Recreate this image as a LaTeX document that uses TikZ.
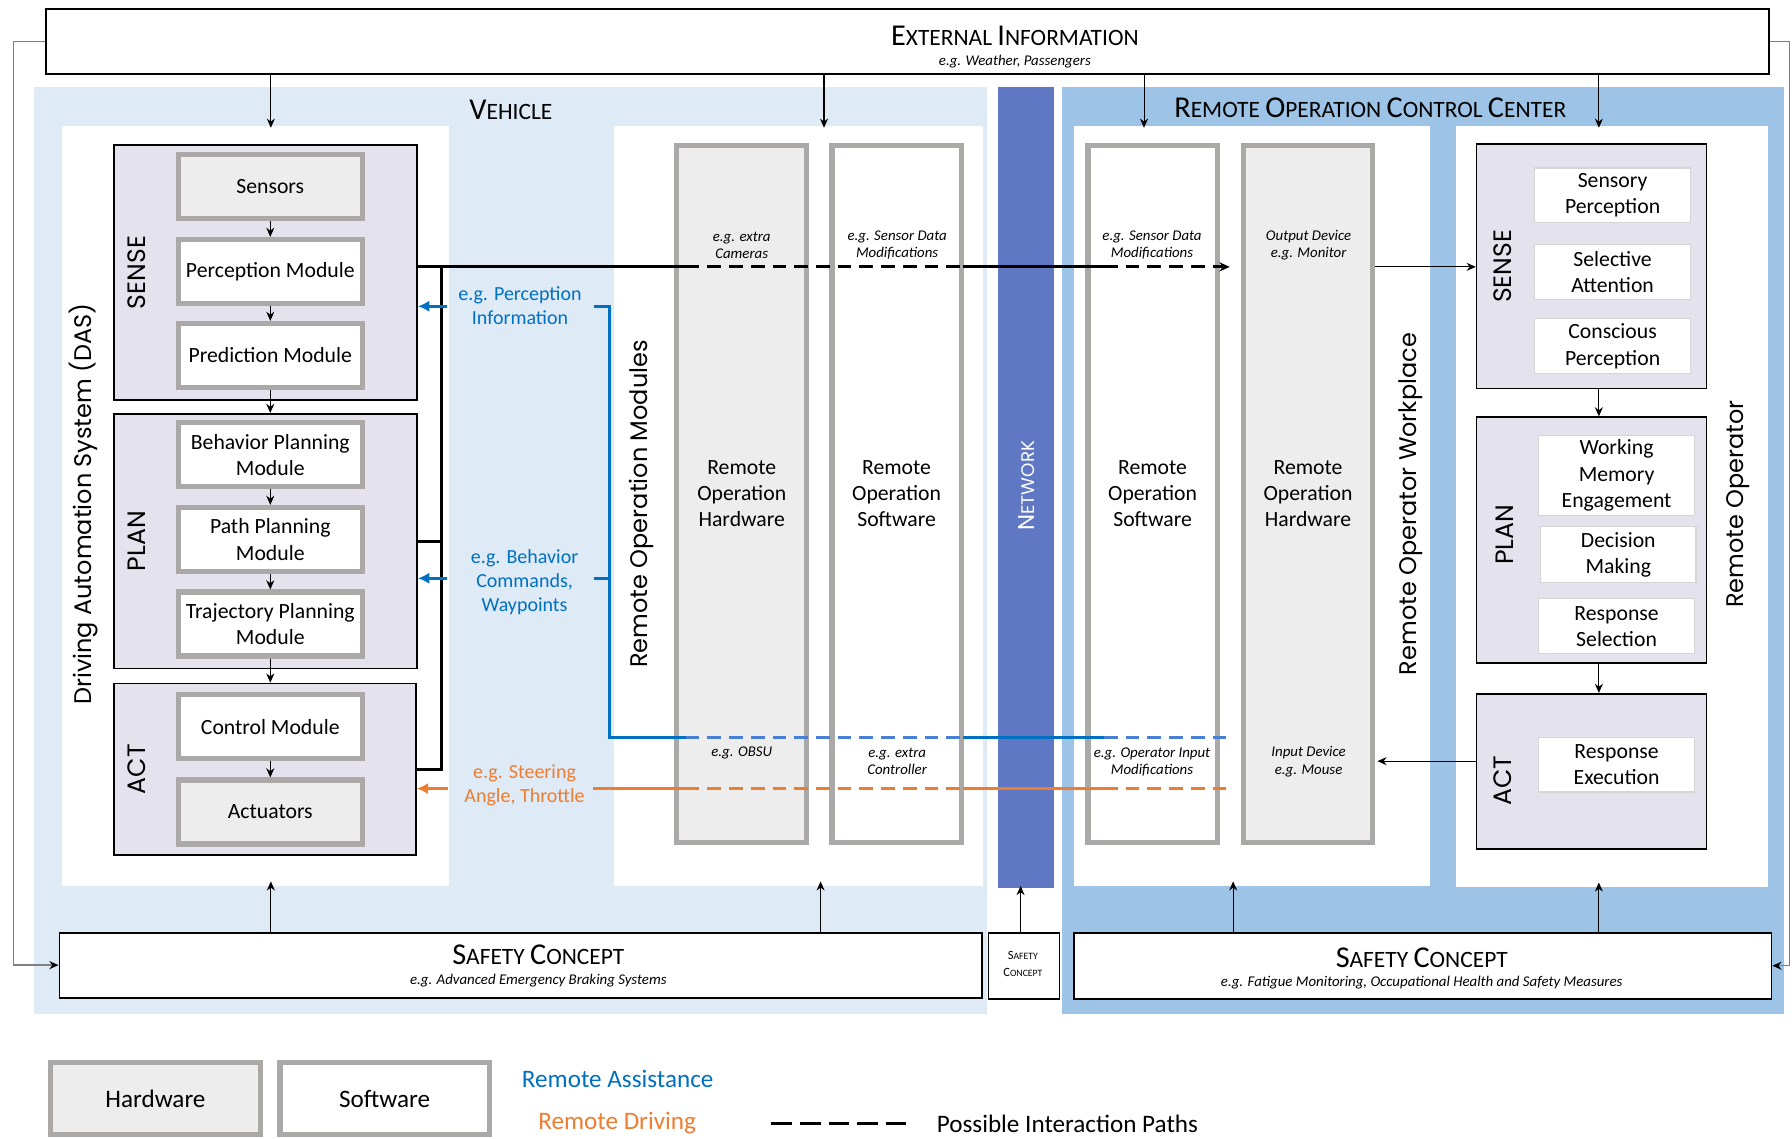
\documentclass[tikz,border=0pt]{standalone}
\usepackage{fontspec}
\setmainfont{Carlito}
\newfontfamily\gothic{Poppins}
\usetikzlibrary{arrows.meta,calc}
\definecolor{vehbg}{HTML}{DEEAF6}
\definecolor{roccbg}{HTML}{9DC3E6}
\definecolor{netc}{HTML}{6078C4}
\definecolor{lav}{HTML}{E4E2EC}
\definecolor{hwfill}{HTML}{EDEDED}
\definecolor{hwedge}{HTML}{ABA8A8}
\definecolor{rablue}{HTML}{0070C0}
\definecolor{radash}{HTML}{4A7FD6}
\definecolor{rdorange}{HTML}{ED7D31}
\definecolor{sidegray}{HTML}{808080}
\definecolor{cogedge}{HTML}{D5D5D5}
\newcommand\fsz[2]{\fontsize{#1}{#2}\selectfont}
\newcommand\BL[1]{{\fsz{26.5}{28}#1}}
\newcommand\BLs[1]{{\fsz{11}{12}#1}}
\newcommand\BLg[1]{{\fsz{20}{22}#1}}
\begin{document}
\begin{tikzpicture}[x=1pt,y=-1pt,
  every node/.style={inner sep=0pt},
  hwbox/.style={draw=hwedge, line width=4.5pt, fill=hwfill, align=center, font=\fsz{19}{23}},
  swbox/.style={hwbox, fill=white},
  mod/.style={minimum width=161, minimum height=56},
  grp/.style={draw=black, line width=1.4pt, fill=lav},
  cog/.style={draw=cogedge, line width=1pt, fill=white, align=center, font=\fsz{19}{23}, minimum width=136},
  arr/.style={-{Stealth[length=8pt,width=7pt]}, line width=0.9pt},
  rot/.style={rotate=90, font=\gothic\fsz{21}{24}},
  rotg/.style={rotate=90, font=\gothic\fsz{22}{24}},
  note/.style={font=\itshape\fsz{13}{15}, align=center},
  title/.style={font=\fsz{20.5}{24}},
  lbl/.style={font=\fsz{17.5}{21}, align=center},
  thickln/.style={line width=2.8pt},
  dsh/.style={line width=2.8pt, dash pattern=on 12pt off 7pt},
  bigarr/.style={-{Latex[length=10pt,width=10pt]}},
  leg/.style={font=\fsz{22}{26}}
]
\useasboundingbox (0,0) rectangle (1568,996);
\fill[white] (0,0) rectangle (1568,996);

% external information
\node[draw=black, line width=1.6pt, fill=white, minimum width=1508, minimum height=57] (ext) at (794,36.5) {};
\node[title] (extT) at (888,31) {\BL{E}XTERNAL \BL{I}NFORMATION};
\node[note] (extS) at (888,54) {e.g. Weather, Passengers};

% backgrounds
\node[fill=vehbg, minimum width=834, minimum height=811] (veh) at (447,481.5) {};
\node[title] (vehT) at (447,96) {\BL{V}EHICLE};
\node[fill=white, minimum width=339, minimum height=665] (dasP) at (223.5,442.5) {};
\node[fill=white, minimum width=323, minimum height=665] (romP) at (698.5,442.5) {};
\node[fill=netc, minimum width=49, minimum height=701] (net) at (897.5,426.5) {};
\node[rotate=90, text=white, font=\gothic\fsz{16}{20}] (netT) at (898,425) {\BLg{N}ETWORK};
\node[fill=roccbg, minimum width=632, minimum height=811] (rocc) at (1245,481.5) {};
\node[title] (roccT) at (1199,94) {\BL{R}EMOTE \BL{O}PERATION \BL{C}ONTROL \BL{C}ENTER};
\node[fill=white, minimum width=311, minimum height=665] (wpP) at (1095.5,442.5) {};
\node[fill=white, minimum width=273, minimum height=666] (opP) at (1410.5,443) {};

% safety concepts
\node[draw=black, line width=1.6pt, fill=white, minimum width=807, minimum height=57] (sc1) at (455.5,844.5) {};
\node[title] (sc1T) at (471,835) {\BL{S}AFETY \BL{C}ONCEPT};
\node[note] (sc1S) at (471,858) {e.g. Advanced Emergency Braking Systems};
\node[draw=black, line width=1.6pt, fill=white, minimum width=62, minimum height=58] (sc2) at (896,845) {};
\node[font=\fsz{8.5}{15}, align=center] (sc2T) at (895,843.5) {\BLs{S}AFETY\\\BLs{C}ONCEPT};
\node[draw=black, line width=1.6pt, fill=white, minimum width=610, minimum height=58] (sc3) at (1245,845) {};
\node[title] (sc3T) at (1244,838) {\BL{S}AFETY \BL{C}ONCEPT};
\node[note] (sc3S) at (1244,860) {e.g. Fatigue Monitoring, Occupational Health and Safety Measures};

% DAS
\node[rot] (dasL) at (73,441) {Driving Automation System (DAS)};
\node[grp, minimum width=265, minimum height=223] (senseG) at (232.5,238.5) {};
\node[rotg] (senseL) at (120,238.5) {SENSE};
\node[grp, minimum width=265, minimum height=223] (planG) at (232.5,473.5) {};
\node[rotg] (planL) at (120,473.5) {PLAN};
\node[grp, minimum width=264, minimum height=150] (actG) at (232,673) {};
\node[rotg] (actL) at (120,673) {ACT};
\node[hwbox, mod] (sensors) at (236.5,163) {Sensors};
\node[swbox, mod] (perc) at (236.5,237.5) {Perception Module};
\node[swbox, mod] (pred) at (236.5,311) {Prediction Module};
\node[swbox, mod] (beh) at (236.5,398) {Behavior Planning\\Module};
\node[swbox, mod] (path) at (236.5,472) {Path Planning\\Module};
\node[swbox, mod] (traj) at (236.5,546) {Trajectory Planning\\Module};
\node[swbox, mod] (ctrl) at (236.5,636) {Control Module};
\node[hwbox, mod] (actu) at (236.5,710.5) {Actuators};

% remote operation modules
\node[rot] (romL) at (561,441) {Remote Operation Modules};
\node[hwbox, minimum width=114, minimum height=610] (romH) at (649,432) {Remote\\Operation\\Hardware};
\node[swbox, minimum width=113, minimum height=610] (romS) at (784.5,432) {Remote\\Operation\\Software};
\node[note] (romHn1) at (649,214.5) {e.g. extra\\Cameras};
\node[note] (romHn2) at (649,659) {e.g. OBSU};
\node[note] (romSn1) at (785,214.5) {e.g. Sensor Data\\Modifications};
\node[note] (romSn2) at (785,666.5) {e.g. extra\\Controller};

% workplace
\node[swbox, minimum width=113, minimum height=610] (wpS) at (1008.5,432) {Remote\\Operation\\Software};
\node[hwbox, minimum width=113, minimum height=610] (wpH) at (1144.5,432) {Remote\\Operation\\Hardware};
\node[note] (wpSn1) at (1008,214.5) {e.g. Sensor Data\\Modifications};
\node[note] (wpSn2) at (1008,666.5) {e.g. Operator Input\\Modifications};
\node[note] (wpHn1) at (1145,214.5) {Output Device\\e.g. Monitor};
\node[note] (wpHn2) at (1145,666.5) {Input Device\\e.g. Mouse};
\node[rot] (wpL) at (1234,441) {Remote Operator Workplace};

% remote operator
\node[grp, minimum width=201, minimum height=214] (opSense) at (1392.5,233) {};
\node[rotg] (opSenseL) at (1315,233) {SENSE};
\node[cog, minimum height=48] (sp) at (1411,171) {Sensory\\Perception};
\node[cog, minimum height=48] (sa) at (1411,238) {Selective\\Attention};
\node[cog, minimum height=48] (cp) at (1411,303) {Conscious\\Perception};
\node[grp, minimum width=201, minimum height=215] (opPlan) at (1392.5,472.5) {};
\node[rotg] (opPlanL) at (1317,468) {PLAN};
\node[cog, minimum width=137, minimum height=70] (wme) at (1414.5,416) {Working\\Memory\\Engagement};
\node[cog, minimum height=49] (dm) at (1416,485.5) {Decision\\Making};
\node[cog, minimum width=137, minimum height=48] (rs) at (1414.5,548) {Response\\Selection};
\node[grp, minimum width=201, minimum height=136] (opAct) at (1392.5,675) {};
\node[rotg] (opActL) at (1315,683) {ACT};
\node[cog, minimum width=137, minimum height=48] (re) at (1414.5,669) {Response\\Execution};
\node[rot] (opL) at (1521,441) {Remote Operator};

% DAS internal arrows
\draw[arr] (sensors.south) -- (perc.north);
\draw[arr] (perc.south) -- (pred.north);
\draw[arr] (pred.south) -- (planG.north -| pred.south);
\draw[arr] (beh.south) -- (path.north);
\draw[arr] (path.south) -- (traj.north);
\draw[arr] (traj.south) -- (actG.north -| traj.south);
\draw[arr] (ctrl.south) -- (actu.north);

% operator arrows
\coordinate (xop) at (1399,0);
\draw[arr] (opSense.south -| xop) -- (opPlan.north -| xop);
\draw[arr] (opPlan.south -| xop) -- (opAct.north -| xop);

% top / bottom arrows
\coordinate (t1) at (237,0);
\coordinate (t2) at (721,0);
\coordinate (t3) at (1001,0);
\coordinate (t4) at (1399,0);
\draw[arr] (ext.south -| t1) -- ([yshift=-2pt]dasP.north -| t1);
\draw[arr] (ext.south -| t2) -- ([yshift=-2pt]romP.north -| t2);
\draw[arr] (ext.south -| t3) -- ([yshift=-2pt]wpP.north -| t3);
\draw[arr] (ext.south -| t4) -- ([yshift=-2pt]opP.north -| t4);
\coordinate (u1) at (237,0);
\coordinate (u2) at (718,0);
\coordinate (u3) at (893,0);
\coordinate (u4) at (1079,0);
\coordinate (u5) at (1399,0);
\draw[arr] (sc1.north -| u1) -- ([yshift=4pt]dasP.south -| u1);
\draw[arr] (sc1.north -| u2) -- ([yshift=4pt]romP.south -| u2);
\draw[arr] (sc2.north -| u3) -- ([yshift=2pt]net.south -| u3);
\draw[arr] (sc3.north -| u4) -- ([yshift=4pt]wpP.south -| u4);
\draw[arr] (sc3.north -| u5) -- ([yshift=4pt]opP.south -| u5);

% side gray lines
\coordinate (lx) at (12,0);
\coordinate (rx) at (1566,0);
\draw[sidegray, line width=1.3pt, -{Stealth[length=8pt,width=7pt,color=black]}] (ext.west) -| (lx |- sc1.west) -- (sc1.west);
\draw[sidegray, line width=1.3pt, -{Stealth[length=8pt,width=7pt,color=black]}] (ext.east) -| (rx |- sc3.east) -- (sc3.east);

% black perception path
\coordinate (s1) at (600,233.5);
\coordinate (s2) at (843,233.5);
\coordinate (s3) at (966,233.5);
\coordinate (sEnd) at (1076,233.5);
\coordinate (brk) at (386,233.5);
\draw[thickln] (senseG.east |- s1) -- (s1);
\draw[dsh] (s1) -- (s2);
\draw[thickln] (s2) -- (s3);
\draw[dsh, -{Stealth[length=9pt,width=8pt]}] (s3) -- (sEnd);
\draw[line width=2.4pt] (planG.east) -| (brk);
\draw[line width=2.4pt] (brk) |- (actG.east);
\draw[arr] (wpH.east |- sEnd) -- (opSense.west |- sEnd);
\coordinate (yIn) at (0,666);
\draw[arr] (opAct.west |- yIn) -- ([xshift=2pt]wpH.east |- yIn);

% blue remote assistance
\coordinate (bTl) at (520,268);
\coordinate (bT) at (533,268);
\coordinate (bMl) at (520,506);
\coordinate (bM) at (533,506);
\coordinate (bC) at (533,645);
\coordinate (b1) at (600,645);
\coordinate (b2) at (843,645);
\coordinate (b3) at (966,645);
\coordinate (bEnd) at (1077,645);
\coordinate (bTa) at (391,268);
\coordinate (bMa) at (391,506);
\draw[rablue, line width=2.6pt] (bTl) -- (bT) -- (bC) -- (b1);
\draw[rablue, line width=2.6pt] (bMl) -- (bM);
\draw[radash, dsh] (b1) -- (b2);
\draw[rablue, thickln] (b2) -- (b3);
\draw[radash, dsh] (b3) -- (bEnd);
\draw[rablue, line width=2.6pt, bigarr] (bTa) -- (senseG.east |- bTa);
\draw[rablue, line width=2.6pt, bigarr] (bMa) -- (planG.east |- bMa);
\node[lbl, text=rablue] (lblP) at (455,267.5) {e.g. Perception\\Information};
\node[lbl, text=rablue] (lblB) at (459,509) {e.g. Behavior\\Commands,\\Waypoints};

% orange remote driving
\coordinate (oA) at (392,690);
\coordinate (o0) at (519,690);
\coordinate (o1) at (600,690);
\coordinate (o2) at (843,690);
\coordinate (o3) at (966,690);
\coordinate (oEnd) at (1073,690);
\draw[rdorange, line width=2.6pt, bigarr] (oA) -- (actG.east |- oA);
\draw[rdorange, thickln] (o0) -- (o1);
\draw[rdorange, dsh] (o1) -- (o2);
\draw[rdorange, thickln] (o2) -- (o3);
\draw[rdorange, dsh] (o3) -- (oEnd);
\node[lbl, text=rdorange] (lblS) at (459,687.5) {e.g. Steering\\Angle, Throttle};

% legend
\node[hwbox, leg, minimum width=184, minimum height=63] (legHW) at (136,961.5) {Hardware};
\node[swbox, leg, minimum width=183, minimum height=63] (legSW) at (336.5,961.5) {Software};
\node[leg, text=rablue] (legRA) at (540.5,944) {Remote Assistance};
\node[leg, text=rdorange] (legRD) at (540,983) {Remote Driving};
\coordinate (ld1) at (675,983);
\coordinate (ld2) at (795,983);
\draw[line width=3pt, dash pattern=on 18pt off 7pt] (ld1) -- (ld2);
\node[leg] (legPI) at (934,983) {Possible Interaction Paths};
\end{tikzpicture}
\end{document}
